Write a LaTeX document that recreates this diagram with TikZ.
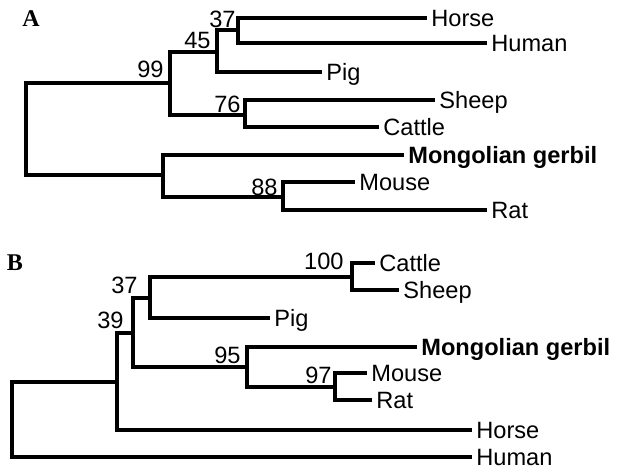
\documentclass[tikz,border=0pt]{standalone}
\usepackage{fontspec}
\setmainfont{Liberation Sans}
\newfontfamily\panelfont{Liberation Serif}
\usetikzlibrary{positioning}
\tikzset{
  branch/.style={line width=2.2pt,black,line cap=rect},
  taxon/.style={anchor=west,inner xsep=3pt,inner ysep=0pt,text height=8.4pt,text depth=0pt,font=\fontsize{11.8}{13}\selectfont},
  taxonb/.style={taxon,font=\fontsize{11.8}{13}\selectfont\bfseries},
  boot/.style={anchor=base east,inner sep=0pt,font=\fontsize{11.8}{13}\selectfont},
  panel/.style={inner sep=0pt,font=\fontsize{12}{14}\selectfont\panelfont\bfseries},
  every picture/.style={baseline={(current bounding box.center)}}
}
\begin{document}
\begin{tikzpicture}[x=0.5pt,y=-0.5pt]
  \useasboundingbox (0,0) rectangle (618,468);
  % panel A
  \node[panel] (pA) at (31,19) {A};
  \coordinate (rootA) at (26,129);
  \coordinate (a99) at (170,83);
  \coordinate (a45) at (217,52);
  \coordinate (a37) at (238,30);
  \coordinate (a76) at (245,115);
  \coordinate (aG) at (163,175);
  \coordinate (a88) at (283,197);
  \node[taxon] (horseA) at (425,18) {Horse};
  \node[taxon] (humanA) at (485,43) {Human};
  \node[taxon] (pigA) at (320,72) {Pig};
  \node[taxon] (sheepA) at (433,100) {Sheep};
  \node[taxon] (cattleA) at (377,127) {Cattle};
  \node[taxonb] (gerbilA) at (402,155) {Mongolian gerbil};
  \node[taxon] (mouseA) at (353,182) {Mouse};
  \node[taxon] (ratA) at (485,210) {Rat};
  \draw[branch] (a99) -| (rootA) |- (aG);
  \draw[branch] (a45) -| (a99) |- (a76);
  \draw[branch] (a37) -| (a45) |- (pigA.west);
  \draw[branch] (horseA.west) -| (a37) |- (humanA.west);
  \draw[branch] (sheepA.west) -| (a76) |- (cattleA.west);
  \draw[branch] (gerbilA.west) -| (aG) |- (a88);
  \draw[branch] (mouseA.west) -| (a88) |- (ratA.west);
  \node[boot] (bA99) at (164,77) {99};
  \node[boot] (bA45) at (211,48) {45};
  \node[boot] (bA37) at (236,27) {37};
  \node[boot] (bA76) at (241,112) {76};
  \node[boot] (bA88) at (278,195) {88};
  % panel B
  \node[panel] (pB) at (15,263) {B};
  \coordinate (rootB) at (12,420);
  \coordinate (bH) at (117,382);
  \coordinate (b39) at (133,333);
  \coordinate (b37) at (150,298);
  \coordinate (b100) at (352,277);
  \coordinate (b95) at (247,367);
  \coordinate (b97) at (335,387);
  \node[taxon] (cattleB) at (373,263) {Cattle};
  \node[taxon] (sheepB) at (397,290) {Sheep};
  \node[taxon] (pigB) at (268,318) {Pig};
  \node[taxonb] (gerbilB) at (415,347) {Mongolian gerbil};
  \node[taxon] (mouseB) at (365,373) {Mouse};
  \node[taxon] (ratB) at (370,400) {Rat};
  \node[taxon] (horseB) at (470,430) {Horse};
  \node[taxon] (humanB) at (470,457) {Human};
  \draw[branch] (bH) -| (rootB) |- (humanB.west);
  \draw[branch] (b39) -| (bH) |- (horseB.west);
  \draw[branch] (b37) -| (b39) |- (b95);
  \draw[branch] (b100) -| (b37) |- (pigB.west);
  \draw[branch] (cattleB.west) -| (b100) |- (sheepB.west);
  \draw[branch] (gerbilB.west) -| (b95) |- (b97);
  \draw[branch] (mouseB.west) -| (b97) |- (ratB.west);
  \node[boot] (bB100) at (344,269) {100};
  \node[boot] (bB37) at (138,293) {37};
  \node[boot] (bB39) at (124,328) {39};
  \node[boot] (bB95) at (241,363) {95};
  \node[boot] (bB97) at (332,383) {97};
\end{tikzpicture}
\end{document}
